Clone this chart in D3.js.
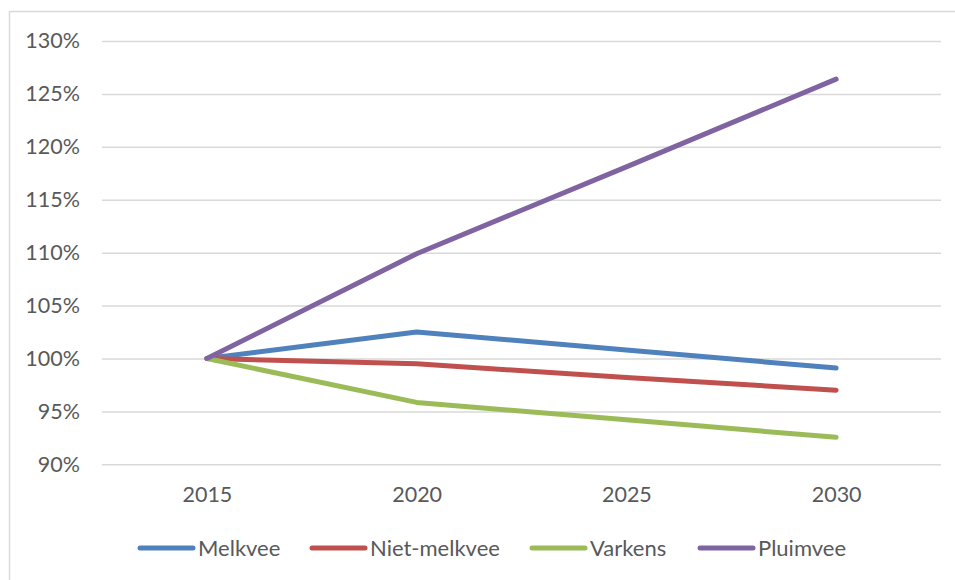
<!DOCTYPE html>
<html><head><meta charset="utf-8">
<script src="https://cdn.jsdelivr.net/npm/d3@7"></script>
<style>body{margin:0;background:#fff}svg{display:block}text{font-family:Lato,"Open Sans",sans-serif;fill:#595959}</style>
</head><body>
<svg id="c" width="955" height="580"></svg>
<script>
const years = ["2015","2020","2025","2030"];
const seriesNames = ["Melkvee","Niet-melkvee","Varkens","Pluimvee"];
const melkvee = [1.000, 1.025, 1.008, 0.991];
const nietMelkvee = [1.000, 0.995, 0.982, 0.970];
const varkens = [1.000, 0.9585, 0.942, 0.9255];
const pluimvee = [1.000, 1.099, 1.181, 1.264];
const yTicks = [0.90,0.95,1.00,1.05,1.10,1.15,1.20,1.25,1.30];
const colors = ["#4F81BD","#C0504D","#9BBB59","#8064A2"];

const series = [melkvee, nietMelkvee, varkens, pluimvee];
const svg = d3.select("#c");
svg.append("rect").attr("x",9.5).attr("y",11.5).attr("width",960).attr("height",580)
  .attr("fill","none").attr("stroke","#D9D9D9").attr("stroke-width",1.5);

const x = d3.scalePoint().domain(years).range([102,941]).padding(0.5);
const y = d3.scaleLinear().domain([0.9,1.3]).range([464.3,41]);

const yAxis = svg.append("g").attr("transform","translate(102,0)")
  .call(d3.axisLeft(y).tickValues(yTicks).tickSize(-839).tickPadding(22).tickFormat(d3.format(".0%")));
yAxis.select(".domain").remove();
yAxis.selectAll("line").attr("stroke","#D9D9D9").attr("stroke-width",1.5);
yAxis.selectAll("text").attr("font-size",21.5).style("font-family","Lato, 'Open Sans', sans-serif").attr("fill","#595959");

const xAxis = svg.append("g").attr("transform","translate(0,464.3)")
  .call(d3.axisBottom(x).tickSize(0).tickPadding(22));
xAxis.select(".domain").remove();
xAxis.selectAll("text").attr("font-size",21.5).style("font-family","Lato, 'Open Sans', sans-serif").attr("fill","#595959");

const line = d3.line().x((d,i)=>x(years[i])).y(d=>y(d));
series.forEach((s,k)=>{
  svg.append("path").attr("d",line(s)).attr("fill","none").attr("stroke",colors[k])
    .attr("stroke-width",5).attr("stroke-linecap","round").attr("stroke-linejoin","round");
});

const legendX = [140,312,532,700];
const lg = svg.append("g");
seriesNames.forEach((n,k)=>{
  lg.append("line").attr("x1",legendX[k]).attr("x2",legendX[k]+53).attr("y1",548).attr("y2",548)
    .attr("stroke",colors[k]).attr("stroke-width",5).attr("stroke-linecap","round");
  lg.append("text").attr("x",legendX[k]+58).attr("y",548).attr("dy","0.35em").attr("font-size",22).text(n);
});
</script>
</body></html>
